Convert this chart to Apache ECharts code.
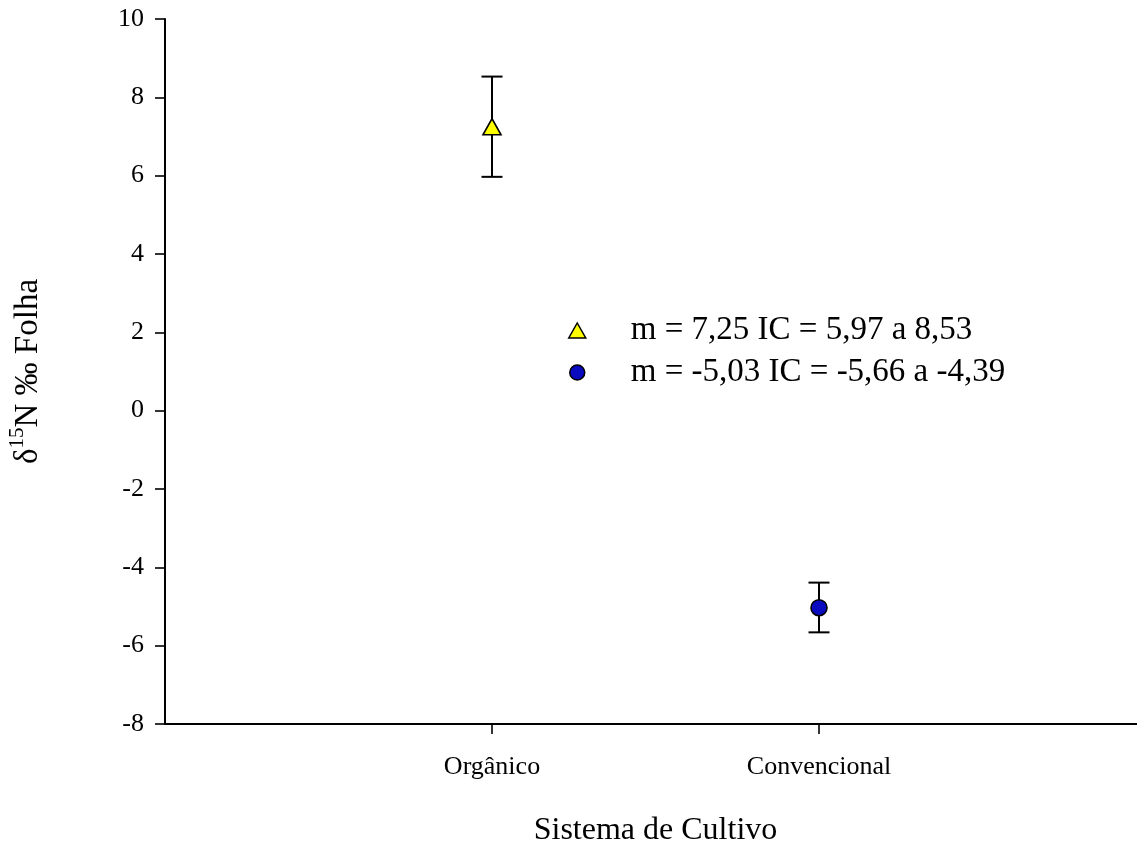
<!DOCTYPE html>
<html>
<head>
<meta charset="utf-8">
<script src="https://cdn.jsdelivr.net/npm/echarts@6/dist/echarts.min.js"></script>
<style>
html,body{margin:0;padding:0;background:#fff;}
#chart{width:1137px;height:843px;}
</style>
</head>
<body>
<div id="chart"></div>
<script>
// Data
var categories = ['Orgânico', 'Convencional'];
var categoryPos = [1, 2];
var means = [7.25, -5.03];
var ciLow = [5.97, -5.66];
var ciHigh = [8.53, -4.39];
var legendLabels = ['m = 7,25 IC = 5,97 a 8,53', 'm = -5,03 IC = -5,66 a -4,39'];
var yTicks = [-8, -6, -4, -2, 0, 2, 4, 6, 8, 10];

var FONT = "'Liberation Serif', 'Times New Roman', serif";
var chart = echarts.init(document.getElementById('chart'));

var errData = categoryPos.map(function (x, i) { return [x, ciLow[i], ciHigh[i]]; });

function renderErr(params, api) {
  var x = api.value(0);
  var lo = api.coord([x, api.value(1)]);
  var hi = api.coord([x, api.value(2)]);
  var hw = 10.5;
  var st = { stroke: '#000', lineWidth: 2 };
  return {
    type: 'group',
    children: [
      { type: 'line', shape: { x1: lo[0], y1: lo[1], x2: hi[0], y2: hi[1] }, style: st },
      { type: 'line', shape: { x1: lo[0] - hw, y1: lo[1], x2: lo[0] + hw, y2: lo[1] }, style: st },
      { type: 'line', shape: { x1: hi[0] - hw, y1: hi[1], x2: hi[0] + hw, y2: hi[1] }, style: st }
    ]
  };
}

var option = {
  backgroundColor: '#fff',
  animation: false,
  textStyle: { fontFamily: FONT },
  grid: { left: 165, top: 19, bottom: 119, right: -9, containLabel: false, outerBoundsMode: 'none' },
  legend: {
    orient: 'vertical',
    left: 563,
    top: 309,
    itemWidth: 17,
    itemHeight: 15,
    itemGap: 9,
    selectedMode: false,
    data: legendLabels,
    itemStyle: { borderWidth: 1.5, borderColor: '#000' },
    textStyle: { fontFamily: FONT, fontSize: 33, color: '#000', padding: [0, 0, 0, 40] }
  },
  xAxis: {
    type: 'value',
    min: 0,
    max: 3,
    interval: 1,
    splitLine: { show: false },
    axisLine: { onZero: false, lineStyle: { color: '#000', width: 2 } },
    axisTick: { show: true, customValues: categoryPos, length: 10, lineStyle: { color: '#000', width: 1.6 } },
    axisLabel: {
      customValues: categoryPos,
      margin: 30,
      fontFamily: FONT,
      fontSize: 26,
      color: '#000',
      formatter: function (v) {
        var idx = categoryPos.indexOf(v);
        return idx >= 0 ? categories[idx] : '';
      }
    },
    name: 'Sistema de Cultivo',
    nameLocation: 'middle',
    nameGap: 91,
    nameTextStyle: { fontFamily: FONT, fontSize: 32, color: '#000' }
  },
  yAxis: {
    type: 'value',
    min: -8,
    max: 10,
    interval: 2,
    splitLine: { show: false },
    axisLine: { onZero: false, lineStyle: { color: '#000', width: 2 } },
    axisTick: { show: true, inside: false, length: 10, lineStyle: { color: '#000', width: 1.6 } },
    axisLabel: { margin: 21, fontFamily: FONT, fontSize: 26, color: '#000' },
    name: '{d|δ}{s|15}{d|N ‰ Folha}',
    nameLocation: 'middle',
    nameRotate: 90,
    nameGap: 120,
    nameTextStyle: {
      color: '#000',
      rich: {
        d: { fontFamily: FONT, fontSize: 33, color: '#000', verticalAlign: 'bottom', lineHeight: 38 },
        s: { fontFamily: FONT, fontSize: 21, color: '#000', verticalAlign: 'top', lineHeight: 38 }
      }
    }
  },
  series: [
    {
      type: 'custom',
      name: 'errorbars',
      renderItem: renderErr,
      data: errData,
      encode: { x: 0, y: [1, 2] },
      z: 1,
      silent: true
    },
    {
      type: 'scatter',
      name: legendLabels[0],
      data: [[categoryPos[0], means[0]]],
      symbol: 'triangle',
      symbolSize: [18, 16],
      itemStyle: { color: '#ffff00', borderColor: '#000', borderWidth: 1.6, opacity: 1 },
      z: 3
    },
    {
      type: 'scatter',
      name: legendLabels[1],
      data: [[categoryPos[1], means[1]]],
      symbol: 'circle',
      symbolSize: 16,
      itemStyle: { color: '#0a0abe', borderColor: '#000', borderWidth: 1.6, opacity: 1 },
      z: 3
    }
  ]
};
chart.setOption(option);
</script>
</body>
</html>
